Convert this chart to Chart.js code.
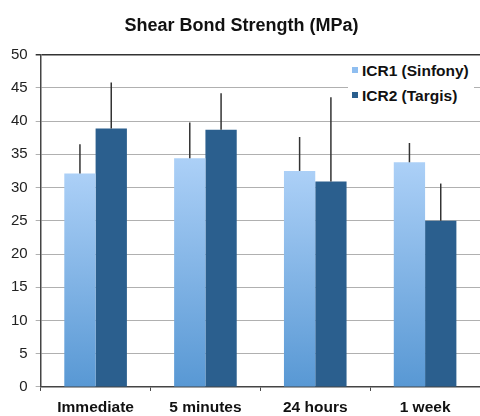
<!DOCTYPE html>
<html lang="en">
<head>
  <meta charset="UTF-8" />
  <title>Shear Bond Strength (MPa)</title>
  <script src="https://cdn.jsdelivr.net/npm/chart.js@4.4.0/dist/chart.umd.min.js"></script>
  <style>
    html, body { margin: 0; padding: 0; background: #ffffff; overflow: hidden; }
    #wrap { position: relative; width: 480px; height: 416px; }
    #legend {
      position: absolute; left: 348px; top: 57px; width: 126px; height: 54px;
      background: #ffffff; font-family: "Liberation Sans", Arial, sans-serif;
      font-weight: bold; font-size: 15.5px; color: #111;
    }
    .item { position: absolute; left: 4px; height: 20px; line-height: 20px; white-space: nowrap; }
    .item span.box { display: inline-block; width: 6px; height: 6px; margin-right: 4px; vertical-align: 3px; }
  </style>
</head>
<body>
  <div id="wrap">
    <canvas id="bondChart" width="480" height="416"></canvas>
    <div id="legend">
      <div class="item" style="top:4px"><span class="box" style="background:#8fbef0"></span>ICR1 (Sinfony)</div>
      <div class="item" style="top:29px"><span class="box" style="background:#2b5f8e"></span>ICR2 (Targis)</div>
    </div>
  </div>

  <script>
    // data
    const categories = ['Immediate', '5 minutes', '24 hours', '1 week'];
    const seriesNames = ['ICR1 (Sinfony)', 'ICR2 (Targis)'];
    const icr1Values = [32.1, 34.4, 32.5, 33.8];
    const icr2Values = [38.9, 38.7, 30.9, 25.0];
    const icr1Errors = [4.4, 5.4, 5.1, 2.9];
    const icr2Errors = [6.9, 5.5, 12.7, 5.6];
    const yTicks = [0, 5, 10, 15, 20, 25, 30, 35, 40, 45, 50];

    const errorsBySeries = [icr1Errors, icr2Errors];

    // per-bar vertical gradient, light at the top
    function lightBar(ctx) {
      const chart = ctx.chart;
      if (!chart.chartArea || ctx.parsed === undefined) return '#8fbef0';
      const y = chart.scales.y;
      const top = y.getPixelForValue(ctx.parsed.y);
      const bottom = y.getPixelForValue(0);
      const g = chart.ctx.createLinearGradient(0, top, 0, bottom);
      g.addColorStop(0, '#acd0f7');
      g.addColorStop(1, '#5898d4');
      return g;
    }

    // upward-only error lines, drawn through the y scale
    const errorBars = {
      id: 'errorBars',
      afterDatasetsDraw(chart) {
        const ctx = chart.ctx;
        const y = chart.scales.y;
        ctx.save();
        ctx.strokeStyle = '#333333';
        ctx.lineWidth = 1.5;
        chart.data.datasets.forEach((ds, di) => {
          const meta = chart.getDatasetMeta(di);
          meta.data.forEach((bar, i) => {
            const v = ds.data[i];
            const e = errorsBySeries[di][i];
            ctx.beginPath();
            ctx.moveTo(bar.x, y.getPixelForValue(v));
            ctx.lineTo(bar.x, y.getPixelForValue(v + e));
            ctx.stroke();
          });
        });
        ctx.restore();
      }
    };

    const chart = new Chart(document.getElementById('bondChart'), {
      type: 'bar',
      data: {
        labels: categories,
        datasets: [
          {
            label: seriesNames[0],
            data: icr1Values,
            backgroundColor: lightBar,
            borderWidth: 0,
            categoryPercentage: 0.57,
            barPercentage: 1.0
          },
          {
            label: seriesNames[1],
            data: icr2Values,
            backgroundColor: '#2b5f8e',
            borderWidth: 0,
            categoryPercentage: 0.57,
            barPercentage: 1.0
          }
        ]
      },
      options: {
        responsive: false,
        animation: false,
        layout: { padding: { left: 3, right: 0, top: 0, bottom: -8 } },
        plugins: {
          legend: { display: false },
          tooltip: { enabled: false },
          title: {
            display: true,
            text: 'Shear Bond Strength (MPa)',
            color: '#111111',
            font: { family: '"Liberation Sans", Arial, sans-serif', size: 18, weight: 'bold' },
            padding: { top: 15, bottom: 18 }
          }
        },
        scales: {
          x: {
            grid: {
              drawOnChartArea: false,
              drawTicks: true,
              tickLength: 4,
              color: '#444444'
            },
            border: { color: '#444444', width: 1.5 },
            ticks: {
              color: '#111111',
              padding: 8,
              font: { family: '"Liberation Sans", Arial, sans-serif', size: 15.5, weight: 'bold', lineHeight: 1.1 }
            }
          },
          y: {
            min: 0,
            max: 50,
            afterBuildTicks: axis => { axis.ticks = yTicks.map(v => ({ value: v })); },
            grid: {
              tickLength: 5,
              color: c => (c.tick && c.tick.value === 50 ? '#333333' : '#b0b0b0'),
              lineWidth: c => (c.tick && c.tick.value === 50 ? 1.5 : 1)
            },
            border: { color: '#444444', width: 1.5 },
            ticks: {
              color: '#222222',
              padding: 8,
              font: { family: '"Liberation Sans", Arial, sans-serif', size: 15 }
            }
          }
        }
      },
      plugins: [errorBars]
    });
  </script>
</body>
</html>
